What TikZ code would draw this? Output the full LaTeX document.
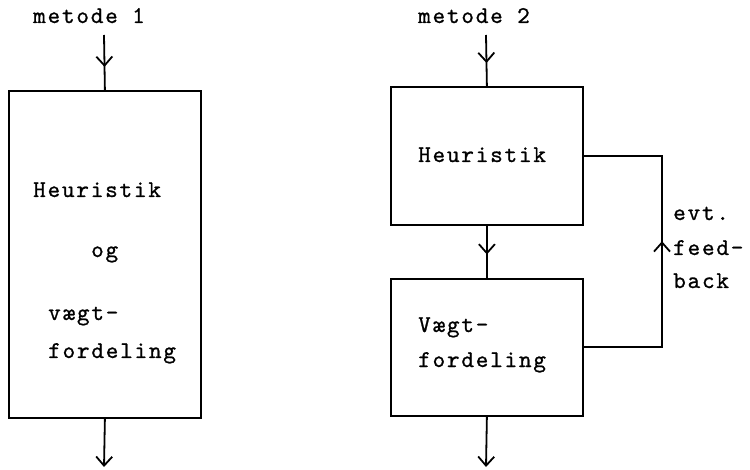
\documentclass[tikz,border=0pt]{standalone}
\usepackage{fontspec}
\newfontfamily\typefont{lmmono10-regular}[Extension=.otf, LetterSpace=7.5, FakeBold=0.9]
\usetikzlibrary{arrows.meta,decorations.markings}

\tikzset{
  box/.style={draw, line width=1.8pt, minimum width=192pt, inner sep=0pt, anchor=north west},
  txt/.style={font=\typefont\fontsize{24}{24}\selectfont, anchor=base west, inner sep=0pt},
  flow/.style={line width=1.8pt},
  midarrow/.style={postaction={decorate}, decoration={markings,
      mark=at position #1 with {\arrow{Straight Barb[length=9pt,width=16pt,line width=1.8pt]}}}},
  endarrow/.style={-{Straight Barb[length=9pt,width=16pt]}}
}

\begin{document}
\begin{tikzpicture}[x=1pt,y=-1pt]
  \useasboundingbox (0,0) rectangle (750,470);

  % metode 1
  \node[txt] (m1) at (33,23) {metode 1};
  \node[box, minimum height=327pt] (meth1) at (8,90) {};
  \node[txt] (h1) at (33,197) {Heuristik};
  \node[txt] (og) at (91,257) {og};
  \node[txt] (v1) at (48,320) {vægt-};
  \node[txt] (f1) at (48,358) {fordeling};
  \coordinate (in1) at (104,35);
  \coordinate (out1) at (104,467);
  \draw[flow, midarrow=0.58] (in1) -- (meth1.north);
  \draw[flow, endarrow] (meth1.south) -- (out1);

  % metode 2
  \node[txt] (m2) at (418,23) {metode 2};
  \node[box, minimum height=138pt] (heur) at (390,86) {};
  \node[box, minimum height=137pt] (vaegt) at (390,278) {};
  \node[txt] (h2) at (418,162) {Heuristik};
  \node[txt] (v2) at (418,332) {Vægt-};
  \node[txt] (f2) at (418,367) {fordeling};
  \coordinate (in2) at (486,35);
  \coordinate (out2) at (486,467);
  \draw[flow, midarrow=0.55] (in2) -- (heur.north);
  \draw[flow, midarrow=0.55] (heur.south) -- (vaegt.north);
  \draw[flow, endarrow] (vaegt.south) -- (out2);

  % feedback
  \coordinate (fbx) at (662,0);
  \draw[flow, midarrow=0.53] (vaegt.east) -- (vaegt.east -| fbx) -- (heur.east -| fbx) -- (heur.east);
  \node[txt] (evt) at (673,220) {evt.};
  \node[txt] (fb) at (673,255) {feed-};
  \node[txt] (bk) at (673,288) {back};
\end{tikzpicture}
\end{document}
